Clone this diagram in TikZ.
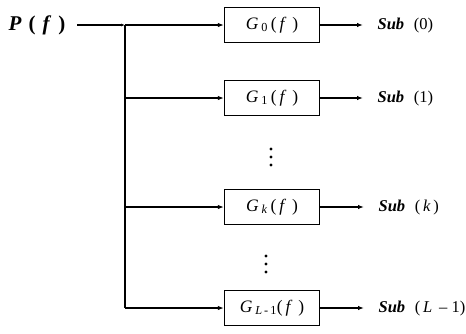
\documentclass[tikz,border=0pt]{standalone}
\usepackage{fontspec}
\setmainfont{Liberation Serif}
\usetikzlibrary{arrows.meta}
\begin{document}
\begin{tikzpicture}[x=1pt,y=-1pt, line width=1.2pt,
  blk/.style={draw, minimum width=95pt, minimum height=35pt, inner sep=0pt,
    font=\fontsize{17.5}{17.5}\selectfont, line width=1.3pt},
  lbl/.style={anchor=west, inner sep=0pt, font=\fontsize{16.5}{16.5}\selectfont},
  arr/.style={-{Latex[length=6pt,width=4.5pt]}},
  dotc/.style={fill, circle, inner sep=0pt, minimum size=3.4pt}]
\useasboundingbox (0,0) rectangle (466,333);
\node[anchor=west, inner sep=0pt, font=\fontsize{21}{21}\selectfont\bfseries] (P) at (8,25)
  {\textit{P}\,\,(\,\,\textit{f}\,\,)};
\coordinate (Pin) at (77,25);
\coordinate (J) at (125,25);
\coordinate (Jend) at (125,308);
\node[blk] (g0) at (272,25) {\textit{G}\,\textsubscript{0}\,(\,\textit{f}\,\,)};
\node[blk] (g1) at (272,98) {\textit{G}\,\textsubscript{1}\,(\,\textit{f}\,\,)};
\node[blk] (gk) at (272,207) {\textit{G}\,\textsubscript{\textit{k}}\,(\,\textit{f}\,\,)};
\node[blk] (gl) at (272,308) {\textit{G}\,\textsubscript{\textit{L}\,-\,1}(\,\textit{f}\,\,)};
\coordinate (o0) at (363,25);
\coordinate (o1) at (363,98);
\coordinate (ok) at (364,207);
\coordinate (ol) at (364,308);
\node[lbl] (s0) at (377,26) {\textbf{\textit{Sub}}\,\, (0)};
\node[lbl] (s1) at (377,99) {\textbf{\textit{Sub}}\,\, (1)};
\node[lbl] (sk) at (378,208) {\textbf{\textit{Sub}}\,\, (\,\textit{k}\,)};
\node[lbl] (sl) at (378,309) {\textbf{\textit{Sub}}\,\, (\,\textit{L}\, -- 1)};
% input
\draw[-{Latex[length=4pt,width=3pt]}] (Pin) -- (J);
\draw[arr] (J) -- (g0.west |- J);
\draw (J) -- (Jend);
\draw[arr] (J |- g1.west) -- (g1.west);
\draw[arr] (J |- gk.west) -- (gk.west);
\draw[arr] (Jend) -- (gl.west);
% outputs
\draw[arr] (g0.east) -- (o0);
\draw[arr] (g1.east) -- (o1);
\draw[arr] (gk.east) -- (ok);
\draw[arr] (gl.east) -- (ol);
% dots
\node[dotc] (d1) at (271,149) {};
\node[dotc] (d2) at (271,157) {};
\node[dotc] (d3) at (271,165) {};
\node[dotc] (d4) at (266,256) {};
\node[dotc] (d5) at (266,264) {};
\node[dotc] (d6) at (266,272) {};
\end{tikzpicture}
\end{document}
